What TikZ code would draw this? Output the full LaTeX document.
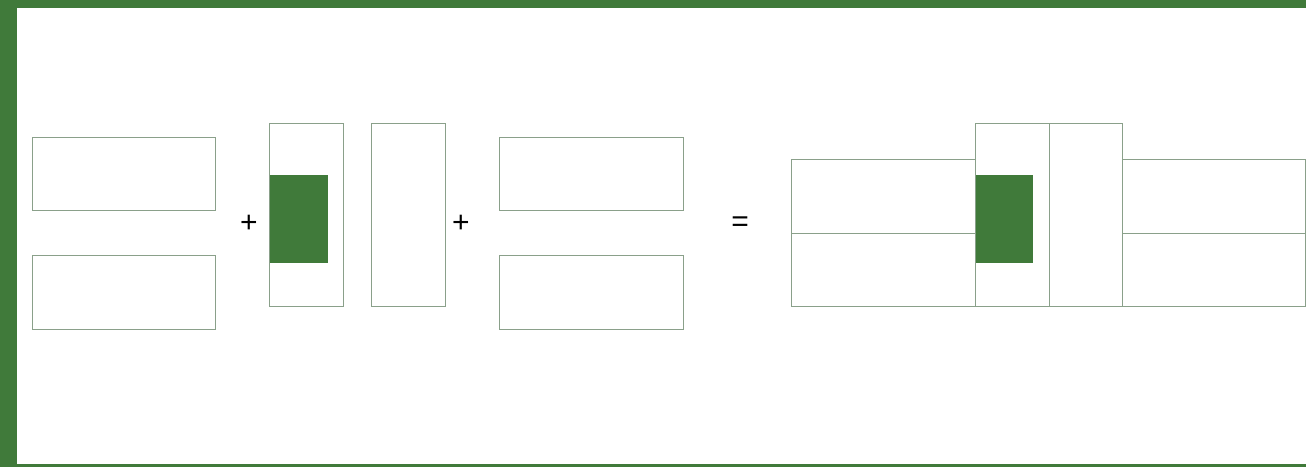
\documentclass[tikz,border=0pt]{standalone}
\usepackage{fontspec}
\setmainfont{Liberation Sans}
\definecolor{leafgreen}{RGB}{64,122,58}
\definecolor{edgegray}{RGB}{138,160,138}
\tikzset{
  blockline/.style={draw=edgegray,line width=1pt},
  corefill/.style={fill=leafgreen},
  opsign/.style={font=\fontsize{30}{30}\selectfont,inner sep=0pt}
}
\begin{document}
\begin{tikzpicture}[x=1pt,y=-1pt]
	\useasboundingbox (0,0) rectangle (1306,467);
	% frame
	\fill[leafgreen] (0,0) rectangle (1306,8);
	\fill[leafgreen] (0,0) rectangle (17,467);
	\fill[leafgreen] (0,464) rectangle (1306,467);

	% left pair
	\draw[blockline] (32,137) rectangle (215,210);
	\draw[blockline] (32,255) rectangle (215,329);
	\node[opsign] (plusA) at (249,224) {+};

	% two tall boxes
	\fill[corefill] (270,175) rectangle (328,263);
	\draw[blockline] (269,123) rectangle (343,306);
	\draw[blockline] (371,123) rectangle (445,306);
	\node[opsign] (plusB) at (461,224) {+};

	% right pair
	\draw[blockline] (499,137) rectangle (683,210);
	\draw[blockline] (499,255) rectangle (683,329);
	\node[opsign] (equal) at (740,224) {=};

	% result
	\draw[blockline] (791,159) rectangle (975,306);
	\draw[blockline] (791,233) -- (975,233);
	\fill[corefill] (976,175) rectangle (1033,263);
	\draw[blockline] (975,123) rectangle (1049,306);
	\draw[blockline] (1049,123) rectangle (1122,306);
	\draw[blockline] (1122,159) rectangle (1305.5,306);
	\draw[blockline] (1122,233) -- (1306,233);
\end{tikzpicture}
\end{document}
